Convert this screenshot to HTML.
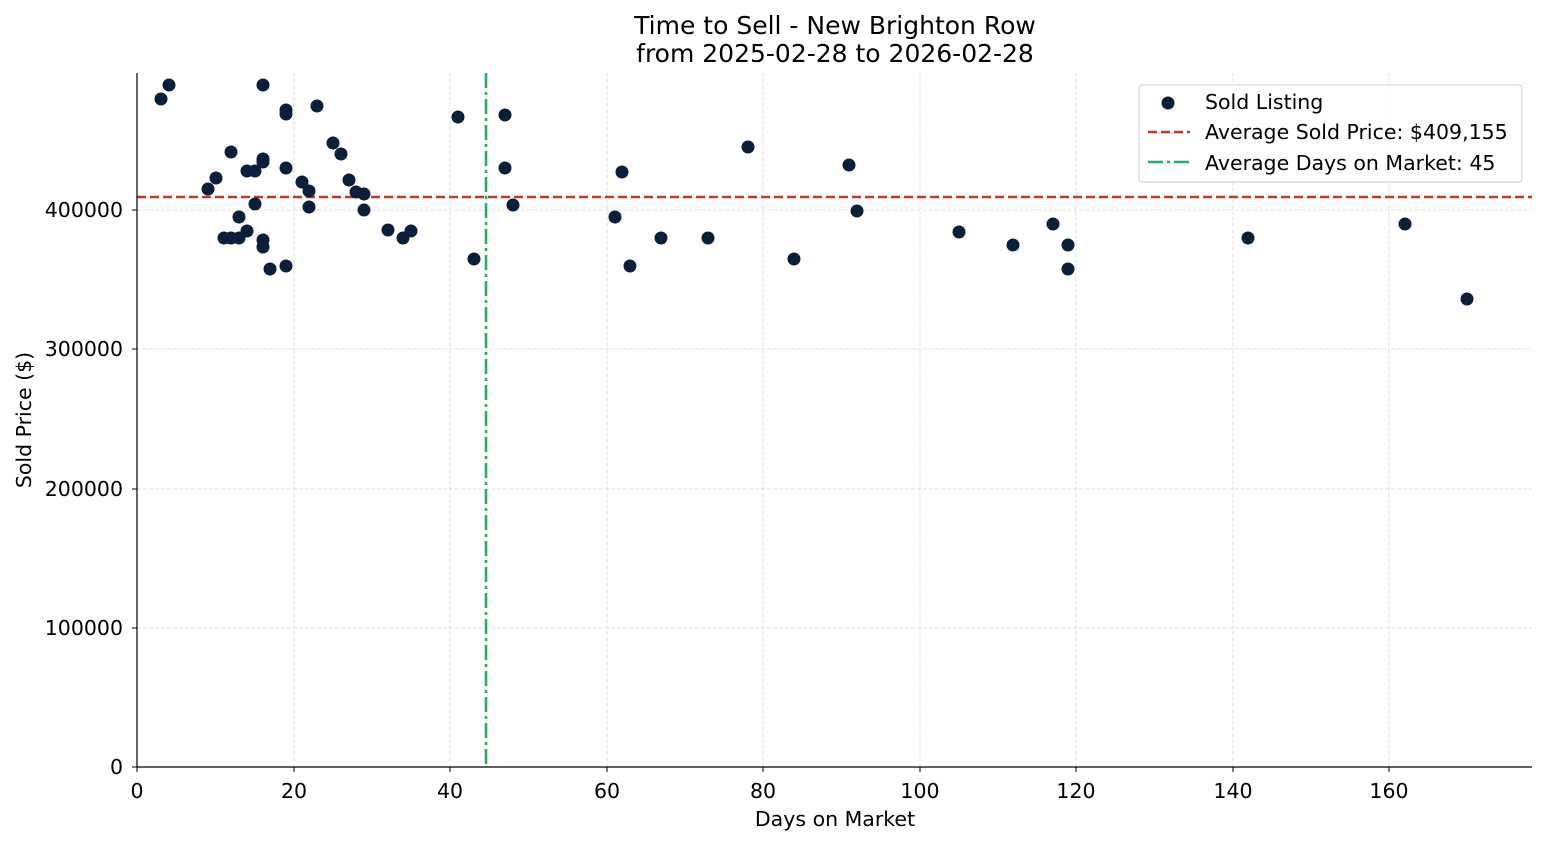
<!DOCTYPE html>
<html><head><style>body{margin:0;background:#fff}svg{display:block;font-family:"DejaVu Sans","Liberation Sans",sans-serif}</style></head>
<body>
<svg width="1547" height="845" viewBox="0 0 1547 845" xmlns="http://www.w3.org/2000/svg">
<g stroke="#d9d9d9" stroke-width="0.8" stroke-dasharray="4,2">
<line x1="294" y1="73" x2="294" y2="767"/><line x1="450" y1="73" x2="450" y2="767"/><line x1="607" y1="73" x2="607" y2="767"/><line x1="763" y1="73" x2="763" y2="767"/><line x1="920" y1="73" x2="920" y2="767"/><line x1="1076" y1="73" x2="1076" y2="767"/><line x1="1233" y1="73" x2="1233" y2="767"/><line x1="1389" y1="73" x2="1389" y2="767"/>
<line x1="137" y1="628" x2="1532" y2="628"/><line x1="137" y1="489" x2="1532" y2="489"/><line x1="137" y1="349" x2="1532" y2="349"/><line x1="137" y1="210" x2="1532" y2="210"/>
</g>
<line x1="137" y1="197" x2="1532" y2="197" stroke="#c0392b" stroke-width="2.6" stroke-dasharray="9,4"/>
<line x1="486" y1="73" x2="486" y2="767" stroke="#27ae60" stroke-width="2.6" stroke-dasharray="15,4,3,4"/>
<g fill="#0b1e3a">
<circle cx="161" cy="99" r="6.5"/><circle cx="169" cy="85" r="6.5"/><circle cx="263" cy="85" r="6.5"/><circle cx="208" cy="189" r="6.5"/><circle cx="216" cy="178" r="6.5"/><circle cx="224" cy="238" r="6.5"/><circle cx="231" cy="152" r="6.5"/><circle cx="231" cy="238" r="6.5"/><circle cx="239" cy="217" r="6.5"/><circle cx="239" cy="238" r="6.5"/><circle cx="247" cy="171" r="6.5"/><circle cx="247" cy="231" r="6.5"/><circle cx="255" cy="171" r="6.5"/><circle cx="255" cy="204" r="6.5"/><circle cx="263" cy="159" r="6.5"/><circle cx="263" cy="162" r="6.5"/><circle cx="263" cy="240" r="6.5"/><circle cx="263" cy="247" r="6.5"/><circle cx="270" cy="269" r="6.5"/><circle cx="286" cy="110" r="6.5"/><circle cx="286" cy="114" r="6.5"/><circle cx="286" cy="168" r="6.5"/><circle cx="286" cy="266" r="6.5"/><circle cx="302" cy="182" r="6.5"/><circle cx="309" cy="191" r="6.5"/><circle cx="309" cy="207" r="6.5"/><circle cx="317" cy="106" r="6.5"/><circle cx="333" cy="143" r="6.5"/><circle cx="341" cy="154" r="6.5"/><circle cx="349" cy="180" r="6.5"/><circle cx="356" cy="192" r="6.5"/><circle cx="364" cy="194" r="6.5"/><circle cx="364" cy="210" r="6.5"/><circle cx="388" cy="230" r="6.5"/><circle cx="403" cy="238" r="6.5"/><circle cx="411" cy="231" r="6.5"/><circle cx="458" cy="117" r="6.5"/><circle cx="474" cy="259" r="6.5"/><circle cx="505" cy="115" r="6.5"/><circle cx="505" cy="168" r="6.5"/><circle cx="513" cy="205" r="6.5"/><circle cx="615" cy="217" r="6.5"/><circle cx="622" cy="172" r="6.5"/><circle cx="630" cy="266" r="6.5"/><circle cx="661" cy="238" r="6.5"/><circle cx="708" cy="238" r="6.5"/><circle cx="748" cy="147" r="6.5"/><circle cx="794" cy="259" r="6.5"/><circle cx="849" cy="165" r="6.5"/><circle cx="857" cy="211" r="6.5"/><circle cx="959" cy="232" r="6.5"/><circle cx="1013" cy="245" r="6.5"/><circle cx="1053" cy="224" r="6.5"/><circle cx="1068" cy="245" r="6.5"/><circle cx="1068" cy="269" r="6.5"/><circle cx="1248" cy="238" r="6.5"/><circle cx="1405" cy="224" r="6.5"/><circle cx="1467" cy="299" r="6.5"/>
</g>
<line x1="137" y1="73" x2="137" y2="767" stroke="#000" stroke-width="1.2"/>
<line x1="137" y1="767" x2="1532" y2="767" stroke="#000" stroke-width="1.2"/>
<g stroke="#000" stroke-width="1">
<line x1="137" y1="767" x2="137" y2="772"/><line x1="294" y1="767" x2="294" y2="772"/><line x1="450" y1="767" x2="450" y2="772"/><line x1="607" y1="767" x2="607" y2="772"/><line x1="763" y1="767" x2="763" y2="772"/><line x1="920" y1="767" x2="920" y2="772"/><line x1="1076" y1="767" x2="1076" y2="772"/><line x1="1233" y1="767" x2="1233" y2="772"/><line x1="1389" y1="767" x2="1389" y2="772"/>
<line x1="132" y1="767" x2="137" y2="767"/><line x1="132" y1="628" x2="137" y2="628"/><line x1="132" y1="489" x2="137" y2="489"/><line x1="132" y1="349" x2="137" y2="349"/><line x1="132" y1="210" x2="137" y2="210"/>
</g>
<g font-size="20.5" fill="#000" text-anchor="middle">
<text x="137" y="798">0</text><text x="294" y="798">20</text><text x="450" y="798">40</text><text x="607" y="798">60</text><text x="763" y="798">80</text><text x="920" y="798">100</text><text x="1076" y="798">120</text><text x="1233" y="798">140</text><text x="1389" y="798">160</text>
<text x="835" y="826">Days on Market</text>
<text x="835" y="34" font-size="25">Time to Sell - New Brighton Row</text>
<text x="835" y="62" font-size="25">from 2025-02-28 to 2026-02-28</text>
</g>
<g font-size="20.5" fill="#000" text-anchor="end">
<text x="123" y="774">0</text><text x="123" y="635">100000</text><text x="123" y="496">200000</text><text x="123" y="356">300000</text><text x="123" y="217">400000</text>
</g>
<text transform="translate(31,420) rotate(-90)" font-size="20.5" text-anchor="middle">Sold Price ($)</text>
<rect x="1139" y="85" width="383" height="97" rx="3" fill="#fff" fill-opacity="0.85" stroke="#ccc"/>
<circle cx="1168" cy="103" r="6.5" fill="#0b1e3a"/>
<line x1="1148" y1="132" x2="1190" y2="132" stroke="#c0392b" stroke-width="2.6" stroke-dasharray="9,4"/>
<line x1="1148" y1="162" x2="1190" y2="162" stroke="#27ae60" stroke-width="2.6" stroke-dasharray="15,4,3,4"/>
<g font-size="20.5" fill="#000">
<text x="1205" y="109">Sold Listing</text><text x="1205" y="139">Average Sold Price: $409,155</text><text x="1205" y="170">Average Days on Market: 45</text>
</g>
</svg>
</body></html>
